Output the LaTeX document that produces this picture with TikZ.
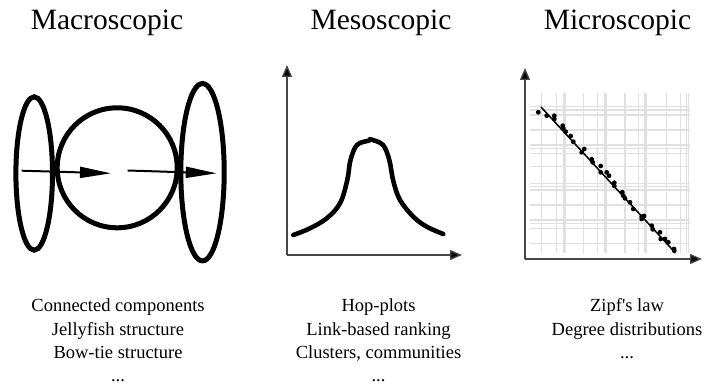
\documentclass[tikz,border=0pt]{standalone}
\usepackage{fontspec}
\setmainfont{Liberation Serif}
\usetikzlibrary{arrows.meta}
\definecolor{gridgray}{RGB}{224,224,224}
\definecolor{axisgray}{RGB}{70,70,70}
\tikzset{
  title/.style={anchor=base, inner sep=0pt, font=\rmfamily\fontsize{29.5}{32}\selectfont},
  itemtext/.style={anchor=base, inner sep=0pt, font=\rmfamily\fontsize{18.5}{22}\selectfont},
  blob/.style={draw=black, line width=5pt},
  flowarrow/.style={draw=black, line width=2pt, -{Triangle[length=31pt,width=11pt]}},
  axis/.style={draw=axisgray, line width=1.4pt, -{Triangle[length=12pt,width=10pt,fill=black]}},
  gridline/.style={draw=gridgray, line width=1.2pt},
  bell/.style={draw=black, line width=4.6pt, line cap=round},
  fitline/.style={draw=black, line width=1.5pt},
  datapt/.style={fill=black}
}
\begin{document}
\begin{tikzpicture}[x=1pt,y=-1pt]
\useasboundingbox (0,0) rectangle (704,387);
\fill[white] (0,0) rectangle (704,387);

% ---------- titles ----------
\node[title] (tmac) at (107,30) {Macroscopic};
\node[title] (tmes) at (381,30) {Mesoscopic};
\node[title] (tmic) at (617.5,30) {Microscopic};

% ---------- macroscopic ----------
\draw[blob] (117.2,167.8) circle[radius=60pt];
\draw[blob] (34.2,173.5) ellipse[x radius=18.3pt, y radius=76.7pt];
\draw[blob] (202.5,172.2) ellipse[x radius=21.7pt, y radius=88.7pt];
\coordinate (a1s) at (21.7,170.7);
\coordinate (a1e) at (111,173.3);
\coordinate (a2s) at (127.7,170.5);
\coordinate (a2e) at (216.7,173.3);
\draw[flowarrow] (a1s) -- (a1e);
\draw[flowarrow] (a2s) -- (a2e);

% ---------- mesoscopic ----------
\coordinate (mo) at (287,255);
\coordinate (my) at (287,65);
\coordinate (mx) at (462,255);
\draw[axis] (mo) -- (my);
\draw[axis] (mo) -- (mx);
\draw[bell] plot[smooth, tension=0.6] coordinates {
 (293.3,235) (310,228.3) (326.7,218.3) (340,203.3) (347.3,180) (350.5,160)
 (357,145) (369,140.5) (371,139.5) (383,145) (389.3,160) (393.3,181) (400,200)
 (413.3,216.7) (426.7,226.7) (443.3,234)};

% ---------- microscopic ----------
\foreach \gx in {541.7,556.7,563.3,565,583.3,597.3,605,606.7,625,638.3,645,646.7,666.7,680.7,686.7,688.3}
  \draw[gridline] (\gx,93) -- (\gx,253);
\foreach \gy in {106.7,110,115,130,145,148.3,153.3,166.7,183.3,186.7,190,205,220,223.3,228.3,243.3}
  \draw[gridline] (530,\gy) -- (690,\gy);
\coordinate (uo) at (525,259);
\coordinate (uy) at (525,68);
\coordinate (ux) at (702,259);
\draw[axis] (uo) -- (uy);
\draw[axis] (uo) -- (ux);
\coordinate (fs) at (541,107);
\coordinate (fe) at (675.5,253);
\draw[fitline] (fs) -- (fe);
\foreach \px/\py in {538.3/112.3,546.7/115.7,554.3/115.7,554.3/119,562.7/125.7,563.3/128.3,
 565.7/131.7,570.7/136,573.3/141.7,581.7/152.3,584.3/149,591.7/159.3,592.7/162.3,600.7/166,
 600.7/172.3,606.7/172.3,609/175.7,614.3/182.7,614.3/186,622.3/192.3,623.3/195.7,625/198.3,
 630/202.3,633.3/209,641.7/216.7,644/216,641.7/219,651.7/225.7,652.7/229.3,660/232.3,
 660.7/239,665/239,668.3/242.3,674/249,674.3/250.7}
  \fill[datapt] (\px,\py) circle[radius=2.4pt];

% ---------- item lists ----------
\node[itemtext] (c1) at (118,312) {Connected components};
\node[itemtext] (c2) at (118,335) {Jellyfish structure};
\node[itemtext] (c3) at (118,358) {Bow-tie structure};
\node[itemtext] (c4) at (118,381) {...};
\node[itemtext] (m1) at (378.5,312) {Hop-plots};
\node[itemtext] (m2) at (378.5,335) {Link-based ranking};
\node[itemtext] (m3) at (378.5,358) {Clusters, communities};
\node[itemtext] (m4) at (378.5,381) {...};
\node[itemtext] (r1) at (627,312) {Zipf\textquotesingle s law};
\node[itemtext] (r2) at (627,335) {Degree distributions};
\node[itemtext] (r3) at (627,358) {...};
\end{tikzpicture}
\end{document}
